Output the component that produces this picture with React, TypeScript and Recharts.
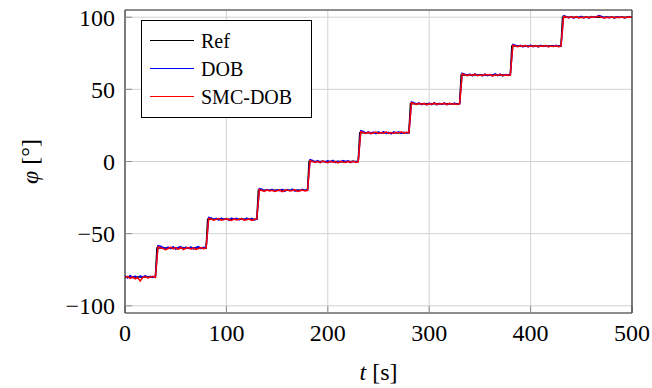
import React from "react";
import { LineChart, Line, XAxis, YAxis, CartesianGrid } from "recharts";

// series names / colours (legend order = draw order)
const seriesNames = ["Ref", "DOB", "SMC-DOB"];
const seriesColors = ["#000000", "#0000ff", "#ff0000"];

// reference steps
const stepTimes = [0, 30, 80, 130, 180, 230, 280, 330, 380, 430];
const refLevels = [-80, -60, -40, -20, 0, 20, 40, 60, 80, 100];
const endTime = 500;

const sampleDt = 2.5;
const dobValues = [
  -79.2, -80.7, -79.0, -80.4, -79.4, -80.9, -79.3, -80.2, -79.1, -80.5, -79.6, -80.3, -79.5,
  -58.3, -58.7, -59.6, -60.6, -59.3, -60.3, -59.1, -60.8, -59.6, -59.0, -60.5, -59.4, -60.2, -59.2, -60.7, -59.5, -58.9, -60.4, -59.4, -59.8,
  -38.7, -39.1, -40.3, -39.4, -40.6, -39.3, -40.2, -39.5, -40.7, -39.2, -40.0, -39.4, -40.5, -39.6, -40.3, -39.3, -40.2, -39.4, -40.6, -39.8,
  -18.8, -19.2, -20.4, -19.4, -20.2, -19.3, -20.6, -19.6, -20.3, -19.4, -20.7, -19.5, -20.2, -19.2, -20.5, -19.8, -20.3, -19.3, -20.0, -19.6,
  1.2, 0.8, -0.4, 0.6, -0.7, 0.3, -0.5, 0.5, -0.3, 0.7, -0.8, 0.2, -0.4, 0.6, -0.2, 0.5, -0.7, 0.3, -0.3, 0.2,
  21.3, 20.8, 19.6, 20.6, 19.4, 20.3, 19.3, 20.5, 19.7, 20.7, 19.4, 20.2, 19.2, 20.5, 19.8, 20.6, 19.5, 20.3, 19.7, 20.0,
  41.3, 40.7, 39.7, 40.6, 39.4, 40.3, 39.2, 40.5, 39.5, 40.8, 39.3, 40.3, 39.6, 40.6, 39.4, 40.2, 39.8, 40.5, 39.5, 40.2,
  61.2, 60.6, 59.6, 60.5, 59.4, 60.7, 59.6, 60.3, 59.3, 60.6, 59.5, 60.2, 59.4, 60.8, 59.6, 60.5, 59.3, 60.3, 59.8, 60.2,
  81.1, 80.6, 79.7, 80.5, 79.4, 80.3, 79.5, 80.6, 79.6, 80.2, 79.4, 80.5, 79.8, 80.3, 79.5, 80.2, 79.7, 80.5, 79.8, 80.0,
  101.1, 100.6, 99.6, 100.5, 99.4, 100.3, 99.7, 100.6, 99.5, 100.2, 99.4, 100.5, 99.8, 100.3, 101.2, 100.6, 99.5, 100.3, 99.7, 100.2, 99.4, 100.3, 99.8, 100.2, 99.5, 100.0, 100.3, 99.8,
];
const smcValues = [
  -80.6, -79.6, -81.0, -80.2, -81.3, -80.5, -82.8, -80.4, -79.7, -80.7, -80.1, -79.5, -80.3,
  -59.3, -59.8, -60.4, -61.1, -60.3, -59.4, -60.5, -59.7, -60.9, -59.5, -61.0, -60.1, -59.6, -60.7, -59.9, -61.0, -60.3, -59.6, -60.4, -60.0,
  -39.4, -39.9, -40.7, -40.1, -39.6, -40.7, -40.3, -39.7, -40.4, -40.9, -39.9, -40.5, -40.1, -39.5, -40.7, -40.3, -39.9, -40.8, -40.2, -39.7,
  -19.5, -20.1, -20.7, -19.7, -20.4, -20.0, -20.8, -20.3, -19.8, -20.9, -20.1, -19.7, -20.5, -20.1, -19.6, -20.7, -20.3, -19.8, -20.5, -20.1,
  0.5, 0.1, -0.6, -0.1, -0.8, 0.3, -0.4, -0.9, 0.1, -0.5, -0.2, -1.0, 0.0, -0.4, -0.7, -0.1, -0.5, 0.2, -0.6, -0.2,
  20.6, 20.1, 19.5, 20.3, 19.3, 19.9, 20.4, 19.4, 20.1, 19.6, 20.5, 19.5, 20.0, 19.4, 20.3, 19.8, 20.5, 19.6, 20.2, 19.9,
  40.7, 40.2, 39.6, 40.4, 39.7, 40.2, 39.4, 40.0, 39.7, 40.5, 39.5, 40.1, 39.9, 40.4, 39.4, 40.3, 39.7, 40.0, 39.6, 40.1,
  60.7, 60.2, 59.5, 60.2, 59.7, 60.5, 59.4, 60.0, 59.6, 60.4, 59.9, 60.3, 59.3, 60.1, 59.7, 60.4, 59.5, 60.0, 59.7, 60.1,
  80.6, 80.1, 79.6, 80.3, 79.7, 80.4, 79.5, 80.0, 79.7, 80.3, 79.6, 80.1, 79.9, 80.3, 79.5, 80.0, 79.7, 80.2, 79.6, 80.0,
  100.6, 100.1, 99.6, 100.3, 99.7, 100.4, 99.5, 100.0, 99.7, 100.3, 99.6, 100.1, 99.9, 100.4, 100.7, 99.9, 99.4, 100.0, 99.7, 100.2, 99.6, 100.0, 99.8, 100.2, 99.7, 100.0, 100.2, 99.9,
];

const xTicks = [0, 100, 200, 300, 400, 500];
const yTicks = [-100, -50, 0, 50, 100];

const FONT = "Liberation Serif";
const FRAME = "#333333";
const TICKLINE = "#8c8c8c";
const GRID = "#d2d2d2";

// ref: flat segments, short ramp at each step
const refData: { t: number; v: number }[] = [];
refLevels.forEach((lv, i) => {
  const start = i === 0 ? stepTimes[0] : stepTimes[i] + 1.5;
  const end = i + 1 < stepTimes.length ? stepTimes[i + 1] : endTime;
  refData.push({ t: start, v: lv }, { t: end, v: lv });
});
const dobData = dobValues.map((v, i) => ({ t: i * sampleDt, v }));
const smcData = smcValues.map((v, i) => ({ t: i * sampleDt, v }));
const seriesData = [refData, dobData, smcData];

const fmt = (v: number) => (v < 0 ? `\u2212${-v}` : `${v}`);

function Legend() {
  return (
    <svg
      width={171}
      height={98}
      style={{ position: "absolute", left: 141, top: 20, overflow: "visible" }}
    >
      <rect x={0.5} y={0.5} width={170} height={97} fill="#fff" stroke="#000" strokeWidth={1} />
      {seriesNames.map((name, i) => (
        <g key={name}>
          <line
            x1={9}
            x2={53}
            y1={20.5 + i * 28}
            y2={20.5 + i * 28}
            stroke={seriesColors[i]}
            strokeWidth={1}
          />
          <text
            x={60}
            y={28 + i * 28}
            style={{ fontFamily: FONT, fontSize: 20 }}
            fill="#000"
          >
            {name}
          </text>
        </g>
      ))}
    </svg>
  );
}

export default function App() {
  return (
    <div
      style={{
        position: "absolute",
        left: 0,
        top: 0,
        width: 652,
        height: 388,
        fontFamily: FONT,
      }}
    >
      <LineChart
        width={652}
        height={388}
        margin={{ top: 9, right: 19, bottom: 0, left: 0 }}
        style={{ fontFamily: FONT }}
      >
        <CartesianGrid stroke={GRID} strokeWidth={1} />
        <XAxis
          dataKey="t"
          type="number"
          domain={[0, endTime]}
          ticks={xTicks}
          height={75}
          allowDataOverflow
          axisLine={{ stroke: FRAME, strokeWidth: 1.2 }}
          tickLine={{ stroke: TICKLINE }}
          tickSize={-7}
          tickMargin={18}
          tick={{ fontFamily: FONT, fontSize: 24, fill: "#000" }}
          label={{
            content: ({ viewBox }: any) => (
              <text
                x={viewBox.x + viewBox.width / 2}
                y={viewBox.y + 67}
                textAnchor="middle"
                style={{ fontFamily: FONT, fontSize: 24 }}
                fill="#000"
              >
                <tspan fontStyle="italic">t</tspan> [s]
              </text>
            ),
          }}
        />
        <XAxis
          xAxisId="top"
          orientation="top"
          dataKey="t"
          type="number"
          domain={[0, endTime]}
          ticks={xTicks}
          height={1}
          allowDataOverflow
          axisLine={{ stroke: FRAME, strokeWidth: 1.2 }}
          tickLine={{ stroke: TICKLINE }}
          tickSize={-7}
          tick={false}
        />
        <YAxis
          type="number"
          domain={[-105, 105]}
          ticks={yTicks}
          width={125}
          allowDataOverflow
          axisLine={{ stroke: FRAME, strokeWidth: 1.2 }}
          tickLine={{ stroke: TICKLINE }}
          tickSize={-7}
          tickMargin={17}
          tickFormatter={fmt}
          tick={{ fontFamily: FONT, fontSize: 24, fill: "#000" }}
          label={{
            content: ({ viewBox }: any) => {
              const cx = viewBox.x + 30;
              const cy = viewBox.y + viewBox.height / 2;
              return (
                <text
                  x={cx}
                  y={cy}
                  transform={`rotate(-90 ${cx} ${cy})`}
                  textAnchor="middle"
                  dominantBaseline="central"
                  style={{ fontFamily: FONT, fontSize: 24 }}
                  fill="#000"
                >
                  <tspan fontStyle="italic">φ</tspan> [°]
                </text>
              );
            },
          }}
        />
        <YAxis
          yAxisId="right"
          orientation="right"
          type="number"
          domain={[-105, 105]}
          ticks={yTicks}
          width={1}
          allowDataOverflow
          axisLine={{ stroke: FRAME, strokeWidth: 1.2 }}
          tickLine={{ stroke: TICKLINE }}
          tickSize={-7}
          tick={false}
        />
        {seriesData.map((d, i) => (
          <Line
            key={seriesNames[i]}
            data={d}
            dataKey="v"
            name={seriesNames[i]}
            type="linear"
            stroke={seriesColors[i]}
            strokeWidth={1.5}
            dot={false}
            activeDot={false}
            isAnimationActive={false}
          />
        ))}
      </LineChart>
      <Legend />
    </div>
  );
}
